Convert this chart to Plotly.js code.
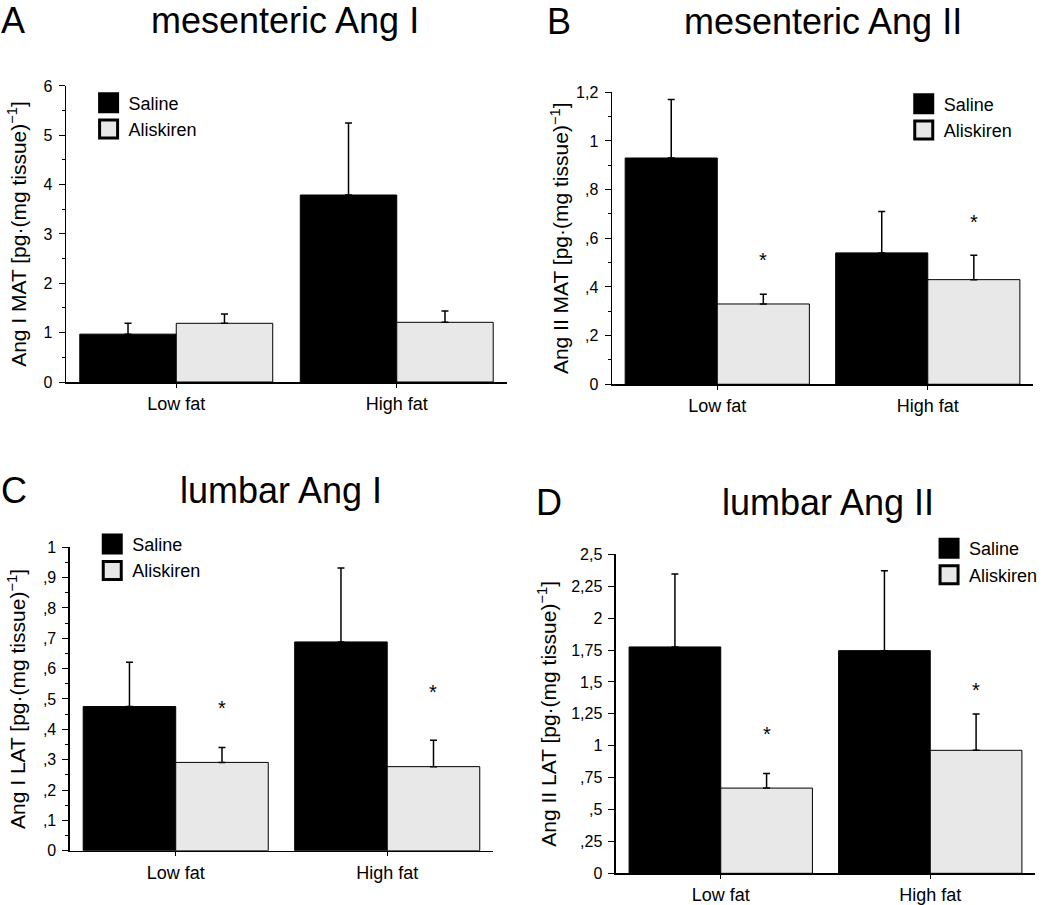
<!DOCTYPE html>
<html>
<head>
<meta charset="utf-8">
<script src="https://cdn.plot.ly/plotly-3.0.1.min.js"></script>
<style>
  body { margin: 0; background: #fff; }
  #plot { width: 1046px; height: 905px; }
</style>
</head>
<body>
<div id="plot"></div>
<script>
// groups on the x axis
var groups = ['Low fat', 'High fat'];

// A - mesenteric Ang I
var mesAng1Saline = [0.97, 3.79];
var mesAng1SalineErr = [0.22, 1.46];
var mesAng1Aliskiren = [1.19, 1.21];
var mesAng1AliskirenErr = [0.19, 0.23];

// B - mesenteric Ang II
var mesAng2Saline = [0.93, 0.54];
var mesAng2SalineErr = [0.24, 0.17];
var mesAng2Aliskiren = [0.33, 0.43];
var mesAng2AliskirenErr = [0.04, 0.10];
var mesAng2Star = [0.52, 0.675];

// C - lumbar Ang I
var lumAng1Saline = [0.475, 0.688];
var lumAng1SalineErr = [0.146, 0.244];
var lumAng1Aliskiren = [0.291, 0.277];
var lumAng1AliskirenErr = [0.049, 0.087];
var lumAng1Star = [0.477, 0.53];

// D - lumbar Ang II
var lumAng2Saline = [1.774, 1.745];
var lumAng2SalineErr = [0.572, 0.627];
var lumAng2Aliskiren = [0.668, 0.964];
var lumAng2AliskirenErr = [0.115, 0.285];
var lumAng2Star = [1.11, 1.455];

// tick labels (comma decimals, no leading zero)
var ticksA = [0, 1, 2, 3, 4, 5, 6];
var ticksAText = ['0', '1', '2', '3', '4', '5', '6'];
var ticksB = [0, 0.2, 0.4, 0.6, 0.8, 1, 1.2];
var ticksBText = ['0', ',2', ',4', ',6', ',8', '1', '1,2'];
var ticksC = [0, 0.1, 0.2, 0.3, 0.4, 0.5, 0.6, 0.7, 0.8, 0.9, 1];
var ticksCText = ['0', ',1', ',2', ',3', ',4', ',5', ',6', ',7', ',8', ',9', '1'];
var ticksD = [0, 0.25, 0.5, 0.75, 1, 1.25, 1.5, 1.75, 2, 2.25, 2.5];
var ticksDText = ['0', ',25', ',5', ',75', '1', '1,25', '1,5', '1,75', '2', '2,25', '2,5'];

var FONT = 'Liberation Sans, Arial, sans-serif';
var GREY = '#e8e8e8';
var BARGAP = 0.125;

function barTrace(name, vals, errs, color, ax, legend) {
  return {
    type: 'bar',
    name: name,
    x: groups,
    y: vals,
    xaxis: 'x' + ax,
    yaxis: 'y' + ax,
    legend: legend,
    marker: { color: color, line: { color: '#000', width: 1 } },
    error_y: {
      type: 'data', symmetric: false,
      array: errs, arrayminus: errs.map(function () { return 0; }),
      color: '#000', thickness: 1.5, width: 3.5
    },
    hoverinfo: 'skip'
  };
}

var data = [
  barTrace('Saline', mesAng1Saline, mesAng1SalineErr, '#000', '', 'legend'),
  barTrace('Aliskiren', mesAng1Aliskiren, mesAng1AliskirenErr, GREY, '', 'legend'),
  barTrace('Saline', mesAng2Saline, mesAng2SalineErr, '#000', '2', 'legend2'),
  barTrace('Aliskiren', mesAng2Aliskiren, mesAng2AliskirenErr, GREY, '2', 'legend2'),
  barTrace('Saline', lumAng1Saline, lumAng1SalineErr, '#000', '3', 'legend3'),
  barTrace('Aliskiren', lumAng1Aliskiren, lumAng1AliskirenErr, GREY, '3', 'legend3'),
  barTrace('Saline', lumAng2Saline, lumAng2SalineErr, '#000', '4', 'legend4'),
  barTrace('Aliskiren', lumAng2Aliskiren, lumAng2AliskirenErr, GREY, '4', 'legend4')
];

function xAxis(domain, anchor) {
  return {
    domain: domain, anchor: anchor, type: 'category', range: [-0.5, 1.5],
    showline: true, linecolor: '#000', linewidth: 1.5,
    ticks: 'outside', ticklen: 4, tickcolor: '#000', tickwidth: 1,
    tickfont: { family: FONT, size: 18, color: '#000' },
    ticklabelstandoff: 1,
    showgrid: false, zeroline: false, fixedrange: true
  };
}

function yAxis(domain, anchor, range, vals, text, minor, title, standoff) {
  var ax = {
    domain: domain, anchor: anchor, range: range,
    tickmode: 'array', tickvals: vals, ticktext: text,
    showline: true, linecolor: '#000', linewidth: 1.5,
    ticks: 'outside', ticklen: 6, tickcolor: '#000', tickwidth: 1,
    tickfont: { family: FONT, size: 16, color: '#000' },
    ticklabelstandoff: 3,
    showgrid: false, zeroline: false, fixedrange: true,
    title: { text: title, font: { family: FONT, size: 21, color: '#000' }, standoff: standoff }
  };
  if (minor) {
    ax.minor = { dtick: minor, tick0: 0, ticks: 'outside', ticklen: 3, tickcolor: '#000', tickwidth: 1, showgrid: false };
  }
  return ax;
}

function legendBox(x, y) {
  return {
    x: x, y: y, xanchor: 'left', yanchor: 'top',
    bgcolor: 'rgba(0,0,0,0)', borderwidth: 0,
    font: { family: FONT, size: 18, color: '#000' },
    traceorder: 'normal', tracegroupgap: 0
  };
}

var annotations = [];

function label(text, x, y, anchor, size) {
  annotations.push({
    text: text, xref: 'paper', yref: 'paper', x: x, y: y,
    xanchor: anchor, yanchor: 'middle', showarrow: false,
    font: { family: FONT, size: size, color: '#000' }
  });
}

label('A', -0.001, 0.9768, 'left', 36);
label('mesenteric Ang I', 0.2725, 0.9768, 'center', 36);
label('B', 0.521, 0.9757, 'left', 36);
label('mesenteric Ang II', 0.7868, 0.9757, 'center', 36);
label('C', -0.001, 0.4575, 'left', 36);
label('lumbar Ang I', 0.2686, 0.4575, 'center', 36);
label('D', 0.5105, 0.4453, 'left', 36);
label('lumbar Ang II', 0.7916, 0.4453, 'center', 36);

// significance stars over the Aliskiren bars
var offset = (1 - BARGAP) / 4;
function stars(ax, ys) {
  ys.forEach(function (v, i) {
    annotations.push({
      text: '*', xref: 'x' + ax, yref: 'y' + ax, x: i + offset, y: v,
      xanchor: 'center', yanchor: 'middle', yshift: -2, showarrow: false,
      font: { family: FONT, size: 20, color: '#000' }
    });
  });
}
stars('2', mesAng2Star);
stars('3', lumAng1Star);
stars('4', lumAng2Star);

var layout = {
  width: 1046,
  height: 905,
  margin: { l: 0, r: 0, t: 0, b: 0 },
  paper_bgcolor: '#fff',
  plot_bgcolor: 'rgba(0,0,0,0)',
  barmode: 'group',
  bargap: BARGAP,
  bargroupgap: 0,
  font: { family: FONT, color: '#000' },
  xaxis: xAxis([0.0631, 0.4847], 'y'),
  yaxis: yAxis([0.5779, 0.9050], 'x', [0, 6], ticksA, ticksAText, 0.5,
    'Ang I MAT [pg·(mg tissue)<sup>−1</sup>]', 11),
  xaxis2: xAxis([0.5851, 0.9876], 'y2'),
  yaxis2: yAxis([0.5754, 0.8980], 'x2', [0, 1.2], ticksB, ticksBText, 0.1,
    'Ang II MAT [pg·(mg tissue)<sup>−1</sup>]', 1),
  xaxis3: xAxis([0.0669, 0.4713], 'y3'),
  yaxis3: yAxis([0.0600, 0.3953], 'x3', [0, 1], ticksC, ticksCText, 0.05,
    'Ang I LAT [pg·(mg tissue)<sup>−1</sup>]', 11),
  xaxis4: xAxis([0.5889, 0.9895], 'y4'),
  yaxis4: yAxis([0.0350, 0.3875], 'x4', [0, 2.5], ticksD, ticksDText, null,
    'Ang II LAT [pg·(mg tissue)<sup>−1</sup>]', 9),
  legend: legendBox(0.0847, 0.9067),
  legend2: legendBox(0.864, 0.9055),
  legend3: legendBox(0.0882, 0.419),
  legend4: legendBox(0.8882, 0.4143),
  annotations: annotations
};

// bigger legend swatches with a heavier frame, as in the original figure
function bigSwatches(gd) {
  gd.querySelectorAll('g.legendpoints path').forEach(function (p) {
    if (p.getAttribute('data-base') === null) {
      p.setAttribute('data-base', p.getAttribute('transform') || '');
    }
    p.setAttribute('transform', p.getAttribute('data-base') + ' scale(1.5)');
    p.style.strokeWidth = '2px';
    p.style.stroke = '#000';
  });
}

var gd = document.getElementById('plot');
Plotly.newPlot(gd, data, layout, { displayModeBar: false, staticPlot: true }).then(function () {
  bigSwatches(gd);
  gd.on('plotly_afterplot', function () { bigSwatches(gd); });
  setTimeout(function () { bigSwatches(gd); }, 50);
});
</script>
</body>
</html>
